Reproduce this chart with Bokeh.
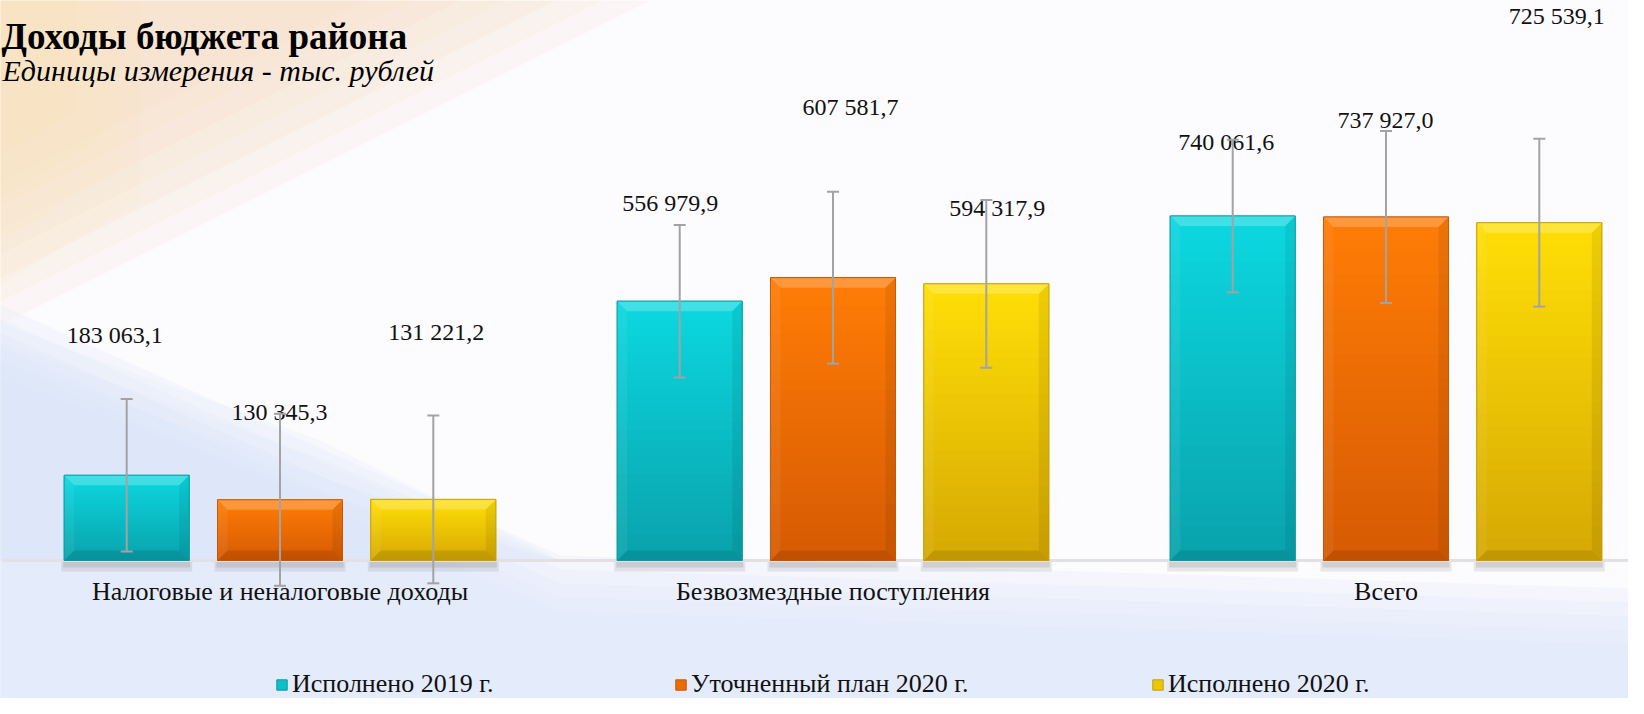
import numpy as np
from bokeh.plotting import figure
from bokeh.models import Range1d, ColumnDataSource, Whisker, TeeHead, Legend, LegendItem
from bokeh.core.properties import value
from bokeh.embed import file_html
from bokeh.resources import INLINE

# ---------------- data ----------------
categories = ["Налоговые и неналоговые доходы", "Безвозмездные поступления", "Всего"]
series_names = ["Исполнено 2019 г.", "Уточненный план 2020 г.", "Исполнено 2020 г."]
vals_2019 = [183063.1, 556979.9, 740061.6]
vals_plan_2020 = [130345.3, 607581.7, 737927.0]
vals_2020 = [131221.2, 594317.9, 725539.1]
title_text = "Доходы бюджета района"
subtitle_text = "Единицы измерения - тыс. рублей"

# ---------------- style ----------------
FONT = "Liberation Serif"
W, H = 1628, 698
CAT_PX = 553.0        # px per category
X0 = 279.5            # canvas px of first category centre
BASE = 560.0          # canvas px of zero line
UPP = 2148.0          # value units per px
BAR_W_PX = 125.0
BAR_STEP_PX = 153.3
BEVEL_PX = 10.0
top_cols = ["#0cd8e0", "#ff7d06", "#ffdf06"]
bot_cols = ["#09a2ac", "#d65a03", "#d6a804"]
edge_cols = ["#0a9aa3", "#c85402", "#c99d04"]
# label offsets from bar top / centre, px (dx right, dy up)
label_dx = [[-12, -9.5, -6.5], [-0.5, 17.5, -0.5], [3, 11, 17.5]]
label_dy = [[140, 98, 73.5], [87.5, 170.5, 96.5], [167.5, 76, 206.5]]


def dx(px):
    return px / CAT_PX


def dy(px):
    return px * UPP


def cx(px):
    return (px - X0) / CAT_PX


def cy(px):
    return (BASE - px) * UPP


def hex2rgb(h):
    return np.array([int(h[i:i + 2], 16) for i in (1, 3, 5)], dtype=float)


def lerp(c1, c2, t):
    c = hex2rgb(c1) * (1 - t) + hex2rgb(c2) * t
    return "#%02x%02x%02x" % tuple(int(round(v)) for v in c)


p = figure(width=W, height=H, x_range=Range1d(cx(0), cx(W)), y_range=Range1d(cy(H), cy(0)),
           x_axis_type=None, y_axis_type=None, output_backend="svg", toolbar_location=None,
           min_border=0, background_fill_color="#fcfbfe", border_fill_color="#fcfbfe",
           outline_line_color=None)

# ---------------- decorative background ----------------
def poly(pts, color, alpha):
    p.patch([cx(a) for a, b in pts], [cy(b) for a, b in pts], fill_color=color,
            fill_alpha=alpha, line_color=None)

# soft peach corner (layered for a fade)
for k in range(7):
    sc = 1.0 - 0.07 * k
    poly([(-10, -10), (-10 + 680 * sc, -10), (-10, -10 + 340 * sc)], "#fbd6b8", 0.13)
for k in range(4):
    sc = 1.0 - 0.15 * k
    poly([(-10, -10), (140 * sc, -10), (140 * sc, 200 * sc), (-10, 290 * sc)], "#fbe3b4", 0.12)
# light blue lower area (layered)
for k in range(5):
    o = 14 * k
    poly([(-10, 300 + o), (560, 555 + o), (1700, 590 + o), (1700, 720), (-10, 720)], "#dae6f8", 0.18)
for k in range(4):
    o = 18 * k
    poly([(-10, 320 + o), (320, 440 + o), (560, 560), (-10, 560)], "#d8e4f6", 0.15)

# ---------------- bars ----------------
series_vals = [vals_2019, vals_plan_2020, vals_2020]
nser = len(series_vals)
ncat = len(categories)
bw = dx(BAR_W_PX)
legend_renderers = []

# baseline and shadows
p.segment(x0=[cx(2)], x1=[cx(W)], y0=[0], y1=[0], line_color="#e2e0e0", line_width=3)
for s in range(nser):
    xs = [i + dx((s - 1) * BAR_STEP_PX) for i in range(ncat)]
    p.vbar(x=xs, width=bw + dx(6), bottom=dy(-11), top=dy(-1.5), fill_color="#8c8c8c",
           fill_alpha=0.18, line_color=None)
    p.vbar(x=xs, width=bw + dx(2), bottom=dy(-7), top=dy(-1.5), fill_color="#8c8c8c",
           fill_alpha=0.25, line_color=None)

N = 30
for s in range(nser):
    vals = series_vals[s]
    xs = [i + dx((s - 1) * BAR_STEP_PX) for i in range(ncat)]
    main = p.vbar(x=xs, width=bw, bottom=0, top=vals, fill_color=lerp(bot_cols[s], top_cols[s], 0.55),
                  line_color=edge_cols[s], line_width=1)
    legend_renderers.append(main)
    sx, sb, st, sc = [], [], [], []
    for i in range(ncat):
        v = vals[i]
        for j in range(N):
            sx.append(xs[i])
            sb.append(v * j / N)
            st.append(min(v, v * (j + 1.6) / N))
            sc.append(lerp(bot_cols[s], top_cols[s], (j + 0.5) / N))
    p.vbar(x=sx, width=bw, bottom=sb, top=st, fill_color=sc, line_color=None)
    # bevels
    bx, by = dx(BEVEL_PX), dy(BEVEL_PX)
    tops, rights, bots, lefts = ([], []), ([], []), ([], []), ([], [])
    for i in range(ncat):
        xl, xr, yt, yb = xs[i] - bw / 2, xs[i] + bw / 2, vals[i], 0
        tops[0].append([xl, xr, xr - bx, xl + bx]); tops[1].append([yt, yt, yt - by, yt - by])
        rights[0].append([xr, xr, xr - bx, xr - bx]); rights[1].append([yt, yb, yb + by, yt - by])
        bots[0].append([xl, xr, xr - bx, xl + bx]); bots[1].append([yb, yb, yb + by, yb + by])
        lefts[0].append([xl, xl + bx, xl + bx, xl]); lefts[1].append([yt, yt - by, yb + by, yb])
    p.patches(tops[0], tops[1], fill_color="white", fill_alpha=0.22, line_color=None)
    p.patches(lefts[0], lefts[1], fill_color="white", fill_alpha=0.06, line_color=None)
    p.patches(rights[0], rights[1], fill_color="black", fill_alpha=0.07, line_color=None)
    p.patches(bots[0], bots[1], fill_color="black", fill_alpha=0.10, line_color=None)
    # outline on top
    p.vbar(x=xs, width=bw, bottom=0, top=vals, fill_color=None, line_color=edge_cols[s],
           line_width=1, line_alpha=0.8)

# ---------------- data labels ----------------
def fmt(v):
    return f"{v:,.1f}".replace(",", " ").replace(".", ",")

lx, ly, lt = [], [], []
for s in range(nser):
    for i in range(ncat):
        v = series_vals[s][i]
        lx.append(i + dx((s - 1) * BAR_STEP_PX) + dx(label_dx[s][i]))
        ly.append(v + dy(label_dy[s][i]))
        lt.append(fmt(v))
p.text(x=lx, y=ly, text=lt, text_font=value(FONT), text_font_size="24px", text_color="#111111",
       text_align="center", text_baseline="middle")

# ---------------- error bars (standard error) ----------------
wb, wu, wl = [], [], []
for s in range(nser):
    vals = np.array(series_vals[s])
    se = vals.std(ddof=1) / np.sqrt(len(vals))
    for i in range(ncat):
        wb.append(i + dx((s - 1) * BAR_STEP_PX))
        wu.append(vals[i] + se)
        wl.append(vals[i] - se)
wsrc = ColumnDataSource(dict(base=wb, upper=wu, lower=wl))
p.add_layout(Whisker(source=wsrc, base="base", upper="upper", lower="lower", dimension="height",
                     line_color="#a3a3a3", line_width=2, level="overlay",
                     upper_head=TeeHead(size=12, line_color="#a3a3a3", line_width=2),
                     lower_head=TeeHead(size=12, line_color="#a3a3a3", line_width=2)))

# ---------------- category labels ----------------
p.text(x=list(range(ncat)), y=[dy(-31)] * ncat, text=categories, text_font=value(FONT),
       text_font_size="26px", text_color="#111111", text_align="center", text_baseline="middle")

# ---------------- title ----------------
p.text(x=[cx(1)], y=[cy(36)], text=[title_text], text_font=value(FONT), text_font_size="37px",
       text_font_style="bold", text_color="#000000", text_align="left", text_baseline="alphabetic")
p.text(x=[cx(2)], y=[cy(70)], text=[subtitle_text], text_font=value(FONT), text_font_size="30px",
       text_font_style="italic", text_color="#000000", text_align="left", text_baseline="alphabetic")

# ---------------- legend ----------------
leg_x = [275, 674, 1151]
for s in range(nser):
    lg = Legend(items=[LegendItem(label=series_names[s], renderers=[legend_renderers[s]])],
                location=(leg_x[s], -1), orientation="horizontal", padding=0, margin=0,
                glyph_width=13, glyph_height=13, label_standoff=4,
                label_text_font=FONT, label_text_font_size="26px", label_text_color="#111111",
                border_line_color=None, background_fill_alpha=0)
    p.add_layout(lg)

open("out.html", "w").write(file_html(p, INLINE))
